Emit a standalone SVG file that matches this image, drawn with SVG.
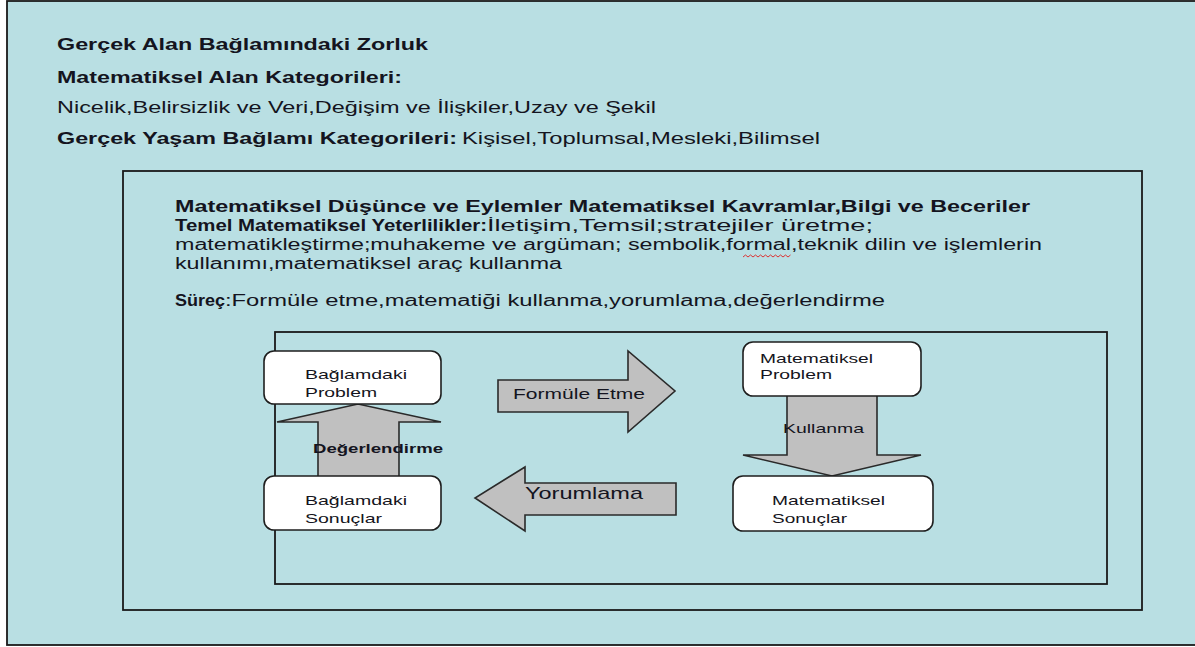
<svg xmlns="http://www.w3.org/2000/svg" width="1195" height="647" viewBox="0 0 1195 647">
<style>
.t{font-family:"Liberation Sans",Arial,sans-serif;fill:#141420}
.b{font-weight:bold}
.h{font-size:16px}
.n{font-size:13px}
.frame{fill:#b9dfe3;stroke:#1a1a1a;stroke-width:1.8}
.node rect{fill:#ffffff;stroke:#1e1e1e;stroke-width:1.6}
.arr{fill:#c0c0c0;stroke:#2a2a2a;stroke-width:1.6;stroke-linejoin:miter}
</style>
<rect x="0" y="0" width="1195" height="647" fill="#ffffff"/>
<g id="frames">
<rect class="frame" x="7" y="1" width="1200" height="644" stroke="#3a3a3a" stroke-width="2.2"/>
<rect class="frame" x="123" y="171" width="1019" height="439"/>
<rect class="frame" x="275" y="332" width="832" height="252"/>
</g>
<g id="header-text">
<text class="t b h" x="57" y="50" textLength="371" lengthAdjust="spacingAndGlyphs">Gerçek Alan Bağlamındaki Zorluk</text>
<text class="t b h" x="57" y="83" textLength="345" lengthAdjust="spacingAndGlyphs">Matematiksel Alan Kategorileri:</text>
<text class="t h" x="57" y="113" textLength="599" lengthAdjust="spacingAndGlyphs">Nicelik,Belirsizlik ve Veri,Değişim ve İlişkiler,Uzay ve Şekil</text>
<text class="t b h" x="57" y="144" textLength="400" lengthAdjust="spacingAndGlyphs">Gerçek Yaşam Bağlamı Kategorileri:</text>
<text class="t h" x="462" y="144" textLength="358" lengthAdjust="spacingAndGlyphs">Kişisel,Toplumsal,Mesleki,Bilimsel</text>
</g>
<g id="middle-text">
<text class="t b h" x="175" y="212" textLength="855" lengthAdjust="spacingAndGlyphs">Matematiksel Düşünce ve Eylemler Matematiksel Kavramlar,Bilgi ve Beceriler</text>
<text class="t b h" x="175" y="231" textLength="312" lengthAdjust="spacingAndGlyphs">Temel Matematiksel Yeterlilikler:</text>
<text class="t h" x="487" y="231" textLength="386" lengthAdjust="spacingAndGlyphs">İletişim,Temsil;stratejiler üretme;</text>
<text class="t h" x="175" y="250" textLength="867" lengthAdjust="spacingAndGlyphs">matematikleştirme;muhakeme ve argüman; sembolik,formal,teknik dilin ve işlemlerin</text>
<path d="M743 257 l2.5 -2 l2.5 2 l2.5 -2 l2.5 2 l2.5 -2 l2.5 2 l2.5 -2 l2.5 2 l2.5 -2 l2.5 2 l2.5 -2 l2.5 2 l2.5 -2 l2.5 2 l2.5 -2 l2.5 2 l2.5 -2 l2.5 2 l2.5 -2" fill="none" stroke="#e02020" stroke-width="0.9"/>
<text class="t h" x="175" y="269" textLength="387" lengthAdjust="spacingAndGlyphs">kullanımı,matematiksel araç kullanma</text>
<text class="t b h" x="175" y="306" textLength="50" lengthAdjust="spacingAndGlyphs">Süreç</text>
<text class="t h" x="225" y="306" textLength="660" lengthAdjust="spacingAndGlyphs">:Formüle etme,matematiği kullanma,yorumlama,değerlendirme</text>
</g>
<g id="connectors">
<g id="arrow-degerlendirme">
<polygon class="arr" points="318,477 318,422 277,422 358,404 441,422 399,422 399,477"/>
<text class="t b n" x="313" y="453" textLength="130" lengthAdjust="spacingAndGlyphs" fill="#000">Değerlendirme</text>
</g>
<g id="arrow-formule">
<polygon class="arr" points="498,380 628,380 628,351 675,391 628,432 628,412 498,412"/>
<text class="t" x="513" y="399" font-size="15" textLength="132" lengthAdjust="spacingAndGlyphs">Formüle Etme</text>
</g>
<g id="arrow-kullanma">
<polygon class="arr" points="787,395 787,455 743,455 832,476 921,455 877,455 877,395"/>
<text class="t" x="783" y="433" font-size="13" textLength="81" lengthAdjust="spacingAndGlyphs">Kullanma</text>
</g>
<g id="arrow-yorumlama">
<polygon class="arr" points="676,483 525,483 525,467 475,498 525,531 525,515 676,515"/>
<text class="t" x="525" y="499" font-size="17" textLength="118" lengthAdjust="spacingAndGlyphs">Yorumlama</text>
</g>
</g>
<g id="node-baglam-problem" class="node">
<rect x="264" y="351" width="177" height="53" rx="10"/>
<text class="t n" x="305" y="379" textLength="102" lengthAdjust="spacingAndGlyphs">Bağlamdaki</text>
<text class="t n" x="305" y="397" textLength="72" lengthAdjust="spacingAndGlyphs">Problem</text>
</g>
<g id="node-baglam-sonuclar" class="node">
<rect x="264" y="476" width="177" height="54" rx="10"/>
<text class="t n" x="305" y="505" textLength="102" lengthAdjust="spacingAndGlyphs">Bağlamdaki</text>
<text class="t n" x="305" y="523" textLength="77" lengthAdjust="spacingAndGlyphs">Sonuçlar</text>
</g>
<g id="node-mat-problem" class="node">
<rect x="743" y="342" width="178" height="54" rx="10"/>
<text class="t n" x="760" y="363" textLength="113" lengthAdjust="spacingAndGlyphs">Matematiksel</text>
<text class="t n" x="760" y="379" textLength="72" lengthAdjust="spacingAndGlyphs">Problem</text>
</g>
<g id="node-mat-sonuclar" class="node">
<rect x="733" y="476" width="200" height="55" rx="10"/>
<text class="t n" x="772" y="505" textLength="113" lengthAdjust="spacingAndGlyphs">Matematiksel</text>
<text class="t n" x="772" y="523" textLength="75" lengthAdjust="spacingAndGlyphs">Sonuçlar</text>
</g>
</svg>
